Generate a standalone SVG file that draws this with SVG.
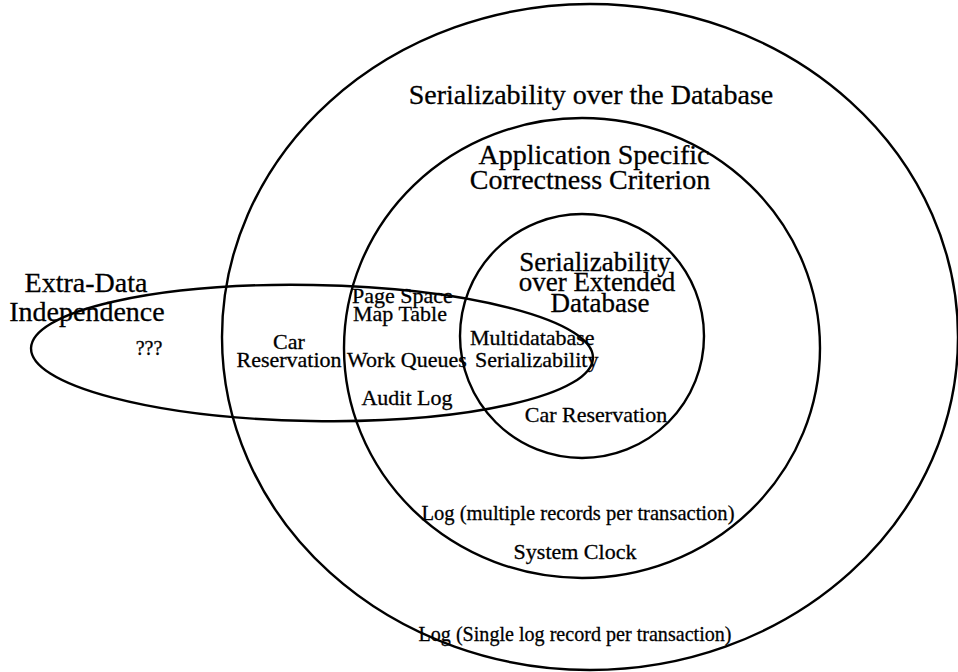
<svg xmlns="http://www.w3.org/2000/svg" width="958" height="672" viewBox="0 0 958 672">
<style>
.ring{fill:none;stroke:#000;stroke-width:2.4}
text{font-family:"Liberation Serif","Times New Roman",serif;fill:#000;stroke:#000;stroke-width:0.3;text-anchor:middle}
.big{font-size:28px}
.mid{font-size:27px}
.sm{font-size:22px}
.st{text-anchor:start}
</style>
<rect width="958" height="672" fill="#fff"/>
<g id="outer">
<ellipse class="ring" cx="590" cy="337" rx="368" ry="333"/>
<text class="big" x="591" y="104">Serializability over the Database</text>
<text class="sm" x="575" y="641" textLength="313" lengthAdjust="spacingAndGlyphs">Log (Single log record per transaction)</text>
</g>
<g id="middle">
<ellipse class="ring" cx="582" cy="348" rx="238" ry="230"/>
<text class="big" x="594" y="164">Application Specific</text>
<text class="big" x="590" y="189">Correctness Criterion</text>
<text class="sm" x="578" y="520" textLength="313" lengthAdjust="spacingAndGlyphs">Log (multiple records per transaction)</text>
<text class="sm" x="575" y="559">System Clock</text>
</g>
<g id="inner">
<ellipse class="ring" cx="582" cy="336" rx="122" ry="122"/>
<text class="mid" x="595" y="271">Serializability</text>
<text class="mid" x="597" y="291">over Extended</text>
<text class="mid" x="600" y="312">Database</text>
<text class="sm" x="596" y="422">Car Reservation</text>
</g>
<g id="extra-data">
<ellipse class="ring" cx="312" cy="353" rx="281" ry="68" transform="rotate(1 312 353)"/>
<text class="big" x="86" y="292">Extra-Data</text>
<text class="big" x="87" y="321">Independence</text>
<text x="149" y="355" style="font-size:20px">???</text>
</g>
<g id="labels">
<text class="sm" x="289" y="349">Car</text>
<text class="sm" x="289" y="367">Reservation</text>
<text class="sm st" x="352" y="303">Page Space</text>
<text class="sm st" x="353" y="321">Map Table</text>
<text class="sm st" x="347" y="367">Work Queues</text>
<text class="sm" x="407" y="405">Audit Log</text>
<text class="sm st" x="470" y="345">Multidatabase</text>
<text class="sm st" x="475" y="367">Serializability</text>
</g>
</svg>
